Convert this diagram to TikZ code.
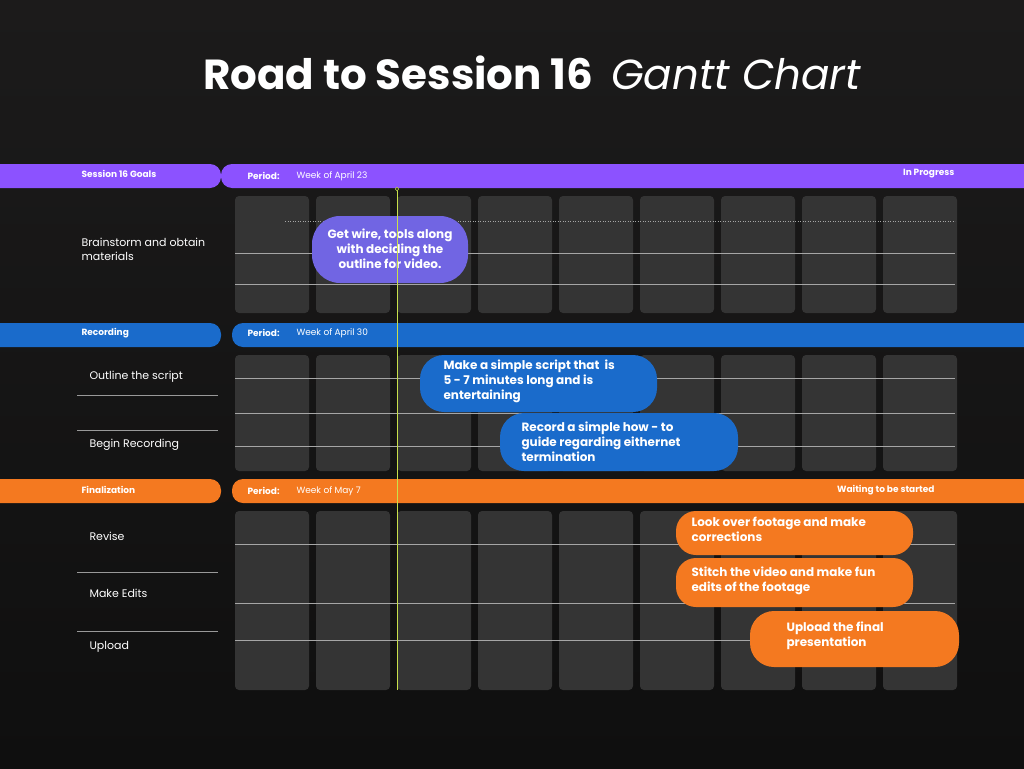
\documentclass[tikz,border=0pt]{standalone}
\usepackage{fontspec}
\setmainfont{Poppins}
\begin{document}
\begin{tikzpicture}[x=1pt,y=-1pt,
  cell/.style={fill=cellc,rounded corners=4pt},
  grid/.style={draw=gray!70,line width=0.5pt},
  sep/.style={draw=gray!80,line width=0.6pt},
  lbl/.style={anchor=west,text=white,font=\fontsize{11}{14}\selectfont,align=left},
  barl/.style={anchor=west,text=white,font=\bfseries\fontsize{9}{11}\selectfont},
  barv/.style={anchor=west,text=white,font=\fontsize{9}{11}\selectfont},
  pill/.style={rounded corners=22pt,text=white,font=\bfseries\fontsize{12}{15}\selectfont,align=left}]
\definecolor{bg1}{HTML}{1C1B1B}\definecolor{bg2}{HTML}{0F0F0F}
\definecolor{cellc}{HTML}{343434}
\definecolor{purp}{HTML}{8C52FF}\definecolor{pillp}{HTML}{7165E3}
\definecolor{blu}{HTML}{1A6BCB}\definecolor{ora}{HTML}{F47920}
\definecolor{yel}{HTML}{C8E04A}
\useasboundingbox (0,0) rectangle (1024,768);
\shade[top color=bg1,bottom color=bg2] (0,0) rectangle (1024,768);
\node (title) at (532,73) {\color{white}\fontsize{42}{48}\selectfont\bfseries Road to Session 16\ \ \mdseries\itshape Gantt Chart};
% cells
\foreach \x in {235,316,397,478,559,640,721,802,883}{
  \fill[cell] (\x,196) rectangle ++(74,117);
  \fill[cell] (\x,355) rectangle ++(74,116);
  \fill[cell] (\x,511) rectangle ++(74,179);
}
\draw[grid,dotted] (285,221) -- (955,221);
\foreach \y in {253,284,378,413,446,544,603,640}{\draw[grid] (235,\y) -- (955,\y);}
\foreach \y in {395,430,572,631}{\draw[sep] (77,\y) -- (218,\y);}
% bars
\fill[purp,rounded corners=11pt] (-20,164) rectangle (221,188);
\fill[purp,rounded corners=11pt] (221,164) rectangle (1044,188);
\fill[blu,rounded corners=11pt] (-20,323) rectangle (221,347);
\fill[blu,rounded corners=11pt] (232,323) rectangle (1044,347);
\fill[ora,rounded corners=11pt] (-20,479) rectangle (221,503);
\fill[ora,rounded corners=11pt] (232,479) rectangle (1044,503);
\node[barl] (g1) at (78,174) {Session 16 Goals};
\node[barl] (p1) at (244,176) {Period:};
\node[barv] (w1) at (293,176) {Week of April 23};
\node[barl,anchor=east] (s1) at (958,174) {In Progress};
\node[barl] (g2) at (78,333) {Recording};
\node[barl] (p2) at (244,333) {Period:};
\node[barv] (w2) at (293,333) {Week of April 30};
\node[barl] (g3) at (78,490) {Finalization};
\node[barl] (p3) at (244,491) {Period:};
\node[barv] (w3) at (293,491) {Week of May 7};
\node[barl,anchor=east] (s3) at (938,490) {Waiting to be started};
% labels
\node[lbl] (t1) at (78,249) {Brainstorm and obtain\\materials};
\node[lbl] (t2) at (86,377) {Outline the script};
\node[lbl] (t3) at (86,445) {Begin Recording};
\node[lbl] (t4) at (86,536) {Revise};
\node[lbl] (t5) at (86,593) {Make Edits};
\node[lbl] (t6) at (86,647) {Upload};
% pills
\fill[pillp,rounded corners=28pt] (312,216) rectangle (468,283);
\node[pill,align=center] (a1) at (390,249) {Get wire, tools along\\with deciding the\\outline for video.};
% marker
\coordinate (m0) at (397,189);
\coordinate (m1) at (397,690);
\draw[yel,line width=0.8pt] (m0) -- (m1);
\draw[yel,fill=bg1,line width=0.6pt] (m0) circle (1.8pt);
\fill[blu,rounded corners=24pt] (420,355) rectangle (657,412);
\node[pill,anchor=north west] (a2) at (440,356) {Make a simple script that\ \ is\\5 - 7 minutes long and is\\entertaining};
\fill[blu,rounded corners=24pt] (500,413) rectangle (738,471);
\node[pill,anchor=north west] (a3) at (518,418) {Record a simple how - to\\guide regarding eithernet\\termination};
\fill[ora,rounded corners=20pt] (676,511) rectangle (913,555);
\node[pill,anchor=north west] (a4) at (688,514) {Look over footage and make\\corrections};
\fill[ora,rounded corners=20pt] (676,558) rectangle (913,607);
\node[pill,anchor=north west] (a5) at (688,563) {Stitch the video and make fun\\edits of the footage};
\fill[ora,rounded corners=24pt] (750,611) rectangle (959,667);
\node[pill,anchor=north west] (a6) at (783,618) {Upload the final\\presentation};
\end{tikzpicture}
\end{document}
